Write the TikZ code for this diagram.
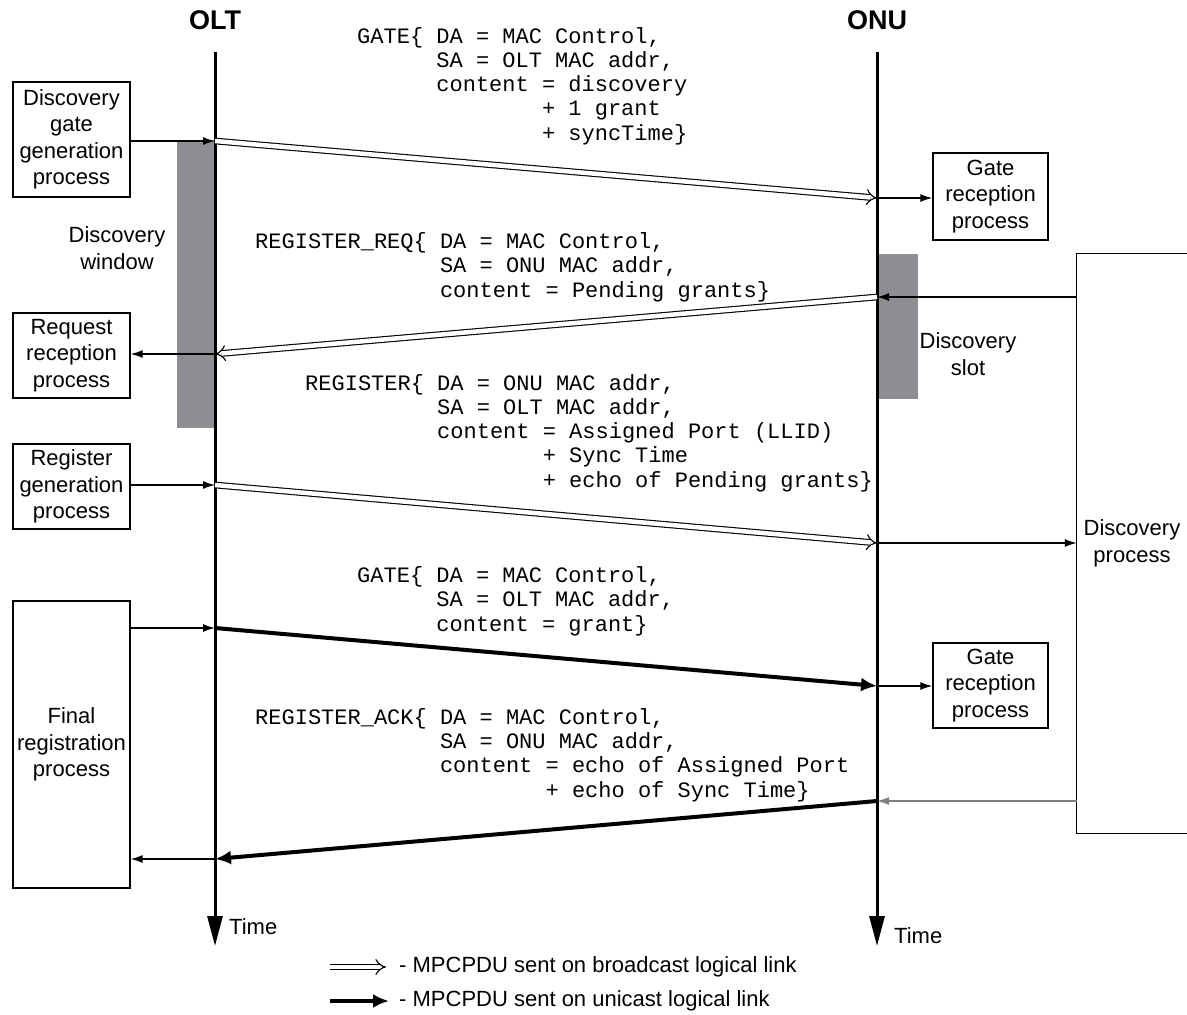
\documentclass[tikz,border=0pt]{standalone}
\usepackage{fontspec}
\setmainfont{Liberation Sans}
\setsansfont{Liberation Sans}
\setmonofont{Liberation Mono}
\usetikzlibrary{arrows.meta}
\definecolor{slotgray}{RGB}{141,142,146}
\tikzset{
  procbox/.style={draw, line width=1.3pt, align=center, inner sep=0pt,
    font=\fontsize{22}{26.5}\selectfont},
  plain/.style={align=center, inner sep=0pt, font=\fontsize{22}{26.5}\selectfont},
  msg/.style={align=left, inner sep=0pt, anchor=base west,
    font=\ttfamily\fontsize{22}{24.2}\selectfont},
  title/.style={inner sep=0pt, font=\bfseries\fontsize{27}{30}\selectfont},
  lifeline/.style={line width=3pt, -{Triangle[length=30pt,width=15pt]}},
  thinarrow/.style={line width=1.4pt, -{Latex[length=12pt,width=8pt]}},
  bcast/.style={double, double distance=4.5pt, line width=1.1pt, -{Implies[length=9pt,width=17pt]}},
  ucast/.style={line width=4pt, -{Latex[length=16pt,width=14pt]}},
}
\begin{document}
\begin{tikzpicture}[x=1pt,y=-1pt]
\useasboundingbox (0,0) rectangle (1187,1015);
% titles
\node[title] (olt) at (215,20) {OLT};
\node[title] (onu) at (877,20) {ONU};
% shaded windows
\fill[slotgray] (177,140) rectangle (215,428);
\fill[slotgray] (878,254) rectangle (918,399);
\node[plain] (dwin) at (117,248) {Discovery\\window};
\node[plain] (dslot) at (968,354) {Discovery\\slot};
% lifelines
\coordinate (olttop) at (215,52);
\coordinate (oltbot) at (215,946);
\coordinate (onutop) at (877,52);
\coordinate (onubot) at (877,946);
\draw[lifeline] (olttop) -- (oltbot);
\draw[lifeline] (onutop) -- (onubot);
\node[plain, anchor=west] (t1) at (229,927) {Time};
\node[plain, anchor=west] (t2) at (894,936) {Time};
% process boxes
\node[procbox, minimum width=117pt, minimum height=115pt] (dgg) at (71.5,139.5) {Discovery\\gate\\generation\\process};
\node[procbox, minimum width=117pt, minimum height=85pt] (reqrec) at (71.5,355.5) {Request\\reception\\process};
\node[procbox, minimum width=117pt, minimum height=85pt] (reggen) at (71.5,486.5) {Register\\generation\\process};
\node[procbox, minimum width=117pt, minimum height=287pt] (finreg) at (71.5,744.5) {Final\\registration\\process};
\node[procbox, minimum width=115pt, minimum height=87pt] (gr1) at (990.5,196.5) {Gate\\reception\\process};
\node[procbox, minimum width=115pt, minimum height=85pt] (gr2) at (990.5,685.5) {Gate\\reception\\process};
\node[plain, minimum width=110pt, minimum height=579pt] (dproc) at (1132,543.5) {Discovery\\process};
\draw[line width=1.3pt] (dproc.north east) -- (dproc.north west) -- (dproc.south west) -- (dproc.south east);
% message endpoints
\coordinate (m1s) at (215,141);
\coordinate (m1e) at (877,198);
\coordinate (m2s) at (877,297);
\coordinate (m2e) at (215,354);
\coordinate (m3s) at (215,485);
\coordinate (m3e) at (877,543);
\coordinate (m4s) at (215,628);
\coordinate (m4e) at (877,686);
\coordinate (m5s) at (877,801);
\coordinate (m5e) at (215,859);
% messages
\draw[bcast] (m1s) -- (m1e);
\draw[bcast] (m2s) -- (m2e);
\draw[bcast] (m3s) -- (m3e);
\draw[ucast] (m4s) -- (m4e);
\draw[ucast] (m5s) -- (m5e);
% local arrows
\draw[thinarrow] (dgg.east |- m1s) -- (m1s);
\draw[thinarrow] (m1e) -- (gr1.west |- m1e);
\draw[thinarrow] (dproc.west |- m2s) -- (m2s);
\draw[thinarrow] (m2e) -- (reqrec.east |- m2e);
\draw[thinarrow] (reggen.east |- m3s) -- (m3s);
\draw[thinarrow] (m3e) -- (dproc.west |- m3e);
\draw[thinarrow] (finreg.east |- m4s) -- (m4s);
\draw[thinarrow] (m4e) -- (gr2.west |- m4e);
\draw[thinarrow, draw=gray, line width=1.2pt] (dproc.west |- m5s) -- (m5s);
\draw[thinarrow] (m5e) -- (finreg.east |- m5e);
% message texts (base anchor = last line baseline)
\node[msg] (txt1) at (357,140) {GATE\{ DA = MAC Control,\\
~~~~~~SA = OLT MAC addr,\\
~~~~~~content = discovery\\
~~~~~~~~~~~~~~+ 1 grant\\
~~~~~~~~~~~~~~+ syncTime\}};
\node[msg] (txt2) at (255,297) {REGISTER\_REQ\{ DA = MAC Control,\\
~~~~~~~~~~~~~~SA = ONU MAC addr,\\
~~~~~~~~~~~~~~content = Pending grants\}};
\node[msg] (txt3) at (305,487) {REGISTER\{ DA = ONU MAC addr,\\
~~~~~~~~~~SA = OLT MAC addr,\\
~~~~~~~~~~content = Assigned Port (LLID)\\
~~~~~~~~~~~~~~~~~~+ Sync Time\\
~~~~~~~~~~~~~~~~~~+ echo of Pending grants\}};
\node[msg] (txt4) at (357,631) {GATE\{ DA = MAC Control,\\
~~~~~~SA = OLT MAC addr,\\
~~~~~~content = grant\}};
\node[msg] (txt5) at (255,797) {REGISTER\_ACK\{ DA = MAC Control,\\
~~~~~~~~~~~~~~SA = ONU MAC addr,\\
~~~~~~~~~~~~~~content = echo of Assigned Port\\
~~~~~~~~~~~~~~~~~~~~~~+ echo of Sync Time\}};
% legend
\coordinate (l1s) at (330,967);
\coordinate (l1e) at (386,967);
\coordinate (l2s) at (330,1001);
\coordinate (l2e) at (389,1001);
\draw[bcast] (l1s) -- (l1e);
\draw[ucast] (l2s) -- (l2e);
\node[plain, anchor=west] (lg1) at (399,967) {- MPCPDU sent on broadcast logical link};
\node[plain, anchor=west] (lg2) at (399,1001) {- MPCPDU sent on unicast logical link};
\end{tikzpicture}
\end{document}
